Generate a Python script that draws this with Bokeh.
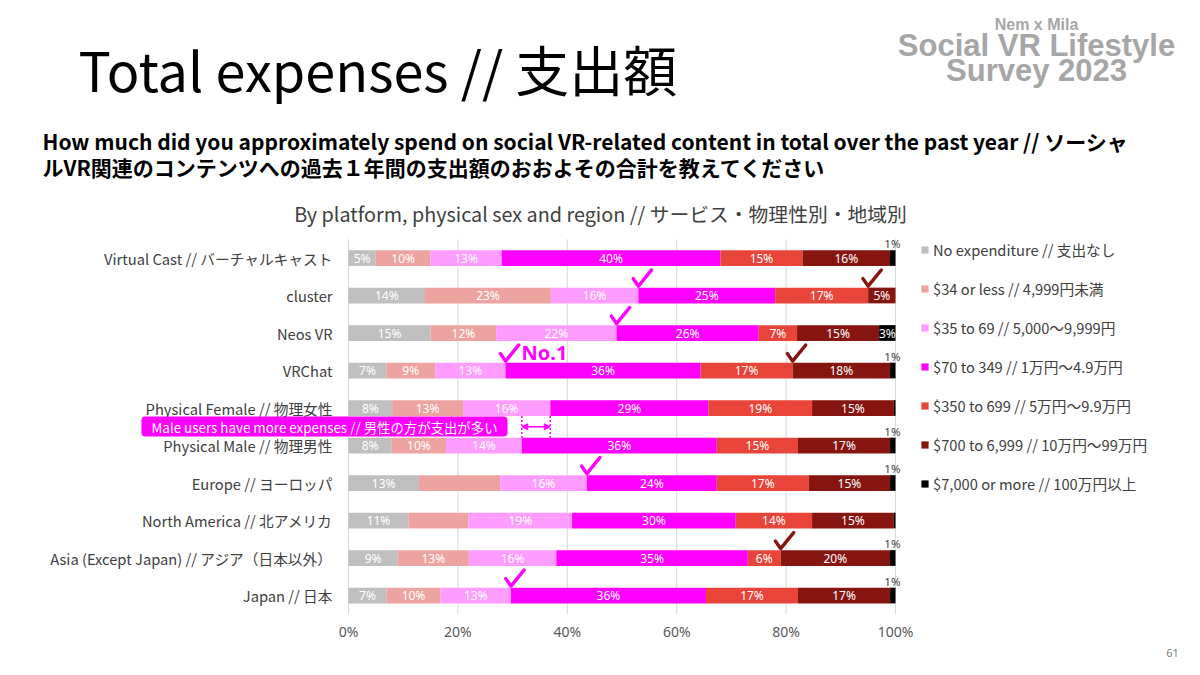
from bokeh.plotting import figure
from bokeh.models import ColumnDataSource, Range1d, FixedTicker, Label, Arrow, NormalHead
from bokeh.embed import file_html
from bokeh.resources import INLINE
from bokeh.core.properties import value

JP = "Noto Sans CJK JP"
MAGENTA = "#ff00ff"
DARKRED = "#861510"

categories = [
    "Virtual Cast // バーチャルキャスト",
    "cluster",
    "Neos VR",
    "VRChat",
    "Physical Female // 物理女性",
    "Physical Male // 物理男性",
    "Europe // ヨーロッパ",
    "North America // 北アメリカ",
    "Asia (Except Japan) // アジア（日本以外）",
    "Japan // 日本",
]

series_names = [
    "No expenditure // 支出なし",
    "$34 or less // 4,999円未満",
    "$35 to 69 // 5,000～9,999円",
    "$70 to 349 // 1万円～4.9万円",
    "$350 to 699 // 5万円～9.9万円",
    "$700 to 6,999 // 10万円～99万円",
    "$7,000 or more // 100万円以上",
]
colors = ["#bfbfbf", "#eda3a0", "#ff9cff", "#ff00ff", "#e8443a", "#861510", "#000000"]

no_expenditure = [5, 14, 15, 7, 8, 8, 13, 11, 9, 7]
usd_34_or_less = [10, 23, 12, 9, 13, 10, 15, 11, 13, 10]
usd_35_69 = [13, 16, 22, 13, 16, 14, 16, 19, 16, 13]
usd_70_349 = [40, 25, 26, 36, 29, 36, 24, 30, 35, 36]
usd_350_699 = [15, 17, 7, 17, 19, 15, 17, 14, 6, 17]
usd_700_6999 = [16, 5, 15, 18, 15, 17, 15, 15, 20, 17]
usd_7000_more = [1, 0, 3, 1, 0.3, 1, 1, 0.3, 1, 1]

series = [no_expenditure, usd_34_or_less, usd_35_69, usd_70_349,
          usd_350_699, usd_700_6999, usd_7000_more]

x_ticks = [0, 20, 40, 60, 80, 100]

# segments whose value label is not printed in the original
hidden_labels = {(6, 1), (7, 1)}
# check marks: (row, segment boundary index, colour)
check_rows = [1, 1, 2, 3, 3, 6, 8, 9]
check_bounds = [3, 5, 3, 3, 5, 3, 5, 3]
check_colors = [MAGENTA, DARKRED, MAGENTA, MAGENTA, DARKRED, MAGENTA, DARKRED, MAGENTA]

n = len(categories)
totals = [sum(s[i] for s in series) for i in range(n)]
shares = [[s[i] / totals[i] * 100 for i in range(n)] for s in series]

keys = [f"s{k}" for k in range(len(series))]
data = {"y": list(range(n))}
for k, sh in zip(keys, shares):
    data[k] = sh
src = ColumnDataSource(data)

# layout: the frame covers the whole canvas; the plot area is mapped with ranges
W, H = 1184, 659
X0_PX, PX_PER_PCT = 348.0, 5.47      # where 0% sits and pixels per percent
Y0_PX, PX_PER_ROW = 257.5, 37.5      # centre of the first row, row pitch
x_range = Range1d(-X0_PX / PX_PER_PCT, (W - X0_PX) / PX_PER_PCT)
y_range = Range1d((H - Y0_PX) / PX_PER_ROW, -Y0_PX / PX_PER_ROW)

p = figure(width=W, height=H, x_range=x_range, y_range=y_range,
           output_backend="svg", toolbar_location=None, title=None,
           min_border=0, min_border_left=0, min_border_right=0,
           min_border_top=0, min_border_bottom=0)
p.outline_line_color = None
p.background_fill_color = "white"
p.border_fill_color = "white"

TOP, BOTTOM = -0.5, n - 0.5

# vertical grid lines
p.segment(x0=x_ticks, y0=[TOP] * len(x_ticks), x1=x_ticks, y1=[BOTTOM] * len(x_ticks),
          line_color="#d9d9d9", line_width=1)

BAR_H = 0.42
p.hbar_stack(keys, y="y", height=BAR_H, fill_color=colors, line_color=None,
             source=src, legend_label=series_names)


def cum(row, idx):
    return sum(shares[k][row] for k in range(idx))


# segment labels
lx, ly, lt = [], [], []
ox, oy, ot = [], [], []
for r in range(n):
    for k, s in enumerate(series):
        v = s[r]
        if (r, k) in hidden_labels:
            continue
        if v >= 3:
            lx.append(cum(r, k) + shares[k][r] / 2)
            ly.append(r)
            lt.append(f"{v}%")
        elif v >= 1:
            ox.append(cum(r, k) + shares[k][r])
            oy.append(r - 0.38)
            ot.append(f"{v}%")

p.text(x=lx, y=ly, text=lt, text_align="center", text_baseline="middle",
       text_color="white", text_font=value("Noto Sans"), text_font_size="12px")
p.text(x=ox, y=oy, text=ot, text_align="right", text_baseline="middle", x_offset=5,
       text_color="#404040", text_font=value("Noto Sans"), text_font_size="11.5px")

# check marks drawn as strokes: vertex on the segment boundary, just above the bar
chk_xs, chk_ys = [], []
for r, b in zip(check_rows, check_bounds):
    cx = cum(r, b)
    top = r - BAR_H / 2
    chk_xs.append([cx - 0.95, cx, cx + 2.4])
    chk_ys.append([top - 0.24, top - 0.04, top - 0.47])
p.multi_line(xs=chk_xs, ys=chk_ys, line_color=check_colors, line_width=3.5,
             line_cap="round", line_join="round")

p.text(x=[cum(3, 3)], y=[3 - 0.48], text=["No.1"], text_color=MAGENTA,
       text_font=value("Noto Sans"), text_font_style="bold", text_font_size="20px",
       text_align="left", text_baseline="middle", x_offset=16)

# female vs male comparison
f_x = cum(4, 3)
m_x = cum(5, 3)
p.segment(x0=[m_x, f_x], y0=[4 + BAR_H / 2] * 2, x1=[m_x, f_x], y1=[5 - BAR_H / 2] * 2,
          line_color=MAGENTA, line_width=1.5, line_dash="2 2")
p.add_layout(Arrow(x_start=m_x, y_start=4.5, x_end=f_x, y_end=4.5,
                   start=NormalHead(size=6, fill_color=MAGENTA, line_color=MAGENTA),
                   end=NormalHead(size=6, fill_color=MAGENTA, line_color=MAGENTA),
                   line_color=MAGENTA, line_width=1.5))
p.add_layout(Label(x=324, y=H - 426, x_units="screen", y_units="screen",
                   text="Male users have more expenses // 男性の方が支出が多い",
                   text_align="center", text_baseline="middle", text_color="white",
                   text_font=JP, text_font_size="13.4px", background_fill_color=MAGENTA,
                   border_radius=4, padding=dict(left=10, right=10, top=0, bottom=0)))

# axes, drawn at fixed locations inside the canvas
p.yaxis.fixed_location = 0
p.yaxis.ticker = FixedTicker(ticks=list(range(n)))
p.yaxis.major_label_overrides = {i: c for i, c in enumerate(categories)}
p.yaxis.axis_line_color = None
p.yaxis.major_tick_line_color = None
p.yaxis.minor_tick_line_color = None
p.yaxis.major_tick_out = 0
p.yaxis.major_tick_in = 0
p.yaxis.major_label_standoff = 16
p.yaxis.major_label_text_font = JP
p.yaxis.major_label_text_font_size = "14.7px"
p.yaxis.major_label_text_color = "#404040"

p.xaxis.fixed_location = BOTTOM
p.xaxis.ticker = FixedTicker(ticks=x_ticks)
p.xaxis.major_label_overrides = {t: f"{t}%" for t in x_ticks}
p.xaxis.axis_line_color = None
p.xaxis.major_tick_line_color = None
p.xaxis.minor_tick_line_color = None
p.xaxis.major_tick_out = 0
p.xaxis.major_tick_in = 0
p.xaxis.major_label_standoff = 8
p.xaxis.major_label_text_font = "Noto Sans"
p.xaxis.major_label_text_font_size = "14px"
p.xaxis.major_label_text_color = "#595959"
p.xgrid.visible = False
p.ygrid.visible = False

# legend
leg = p.legend[0]
leg.location = (920, H - 494)
leg.border_line_color = None
leg.background_fill_alpha = 0
leg.padding = 0
leg.margin = 0
leg.spacing = 18
leg.label_height = 20
leg.glyph_height = 9
leg.glyph_width = 9
leg.label_standoff = 4
leg.label_text_font = JP
leg.label_text_font_size = "14.7px"
leg.label_text_color = "#404040"


def add_text(txt, x, y, size, color="#000000", font=JP, style="normal", align="left"):
    p.add_layout(Label(x=x, y=H - y, x_units="screen", y_units="screen", text=txt,
                       text_font=font, text_font_size=size, text_color=color,
                       text_font_style=style, text_align=align, text_baseline="middle"))


add_text("Total expenses // 支出額", 78, 68, "54px")
add_text("How much did you approximately spend on social VR-related content in total over the past year // ソーシャ",
         42, 140, "21px", style="bold")
add_text("ルVR関連のコンテンツへの過去１年間の支出額のおおよその合計を教えてください", 42, 166, "21px", style="bold")
add_text("By platform, physical sex and region // サービス・物理性別・地域別", 600, 213, "19.8px",
         color="#404040", align="center")
add_text("Nem x Mila", 1036, 24, "16px", color="#a6a6a6", font="Liberation Sans", style="bold", align="center")
add_text("Social VR Lifestyle", 1036, 45, "31px", color="#a6a6a6", font="Liberation Sans", style="bold", align="center")
add_text("Survey 2023", 1036, 70, "31px", color="#a6a6a6", font="Liberation Sans", style="bold", align="center")
add_text("61", 1172, 652, "11px", color="#808080", font="Noto Sans", align="center")

open("out.html", "w").write(file_html(p, INLINE))
